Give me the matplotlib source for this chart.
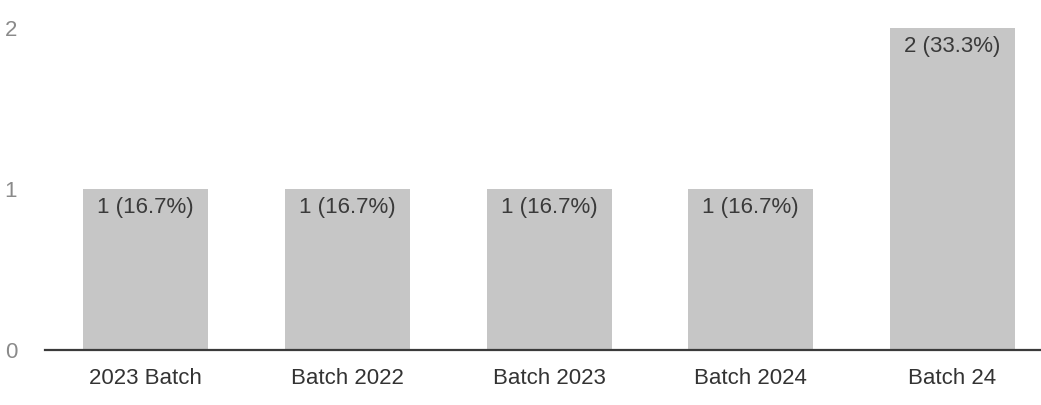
import matplotlib.pyplot as plt

categories = ["2023 Batch", "Batch 2022", "Batch 2023", "Batch 2024", "Batch 24"]
counts = [1, 1, 1, 1, 2]
percents = [16.7, 16.7, 16.7, 16.7, 33.3]

plt.rcParams['font.family'] = ['Liberation Sans', 'DejaVu Sans']

fig = plt.figure(figsize=(10.41, 4.05), dpi=100)
ax = fig.add_axes([45 / 1041, 55 / 405, 1 - 45 / 1041, 322 / 405])

x = list(range(len(categories)))
ax.bar(x, counts, width=0.62, color='#c6c6c6', zorder=2)

# value labels inside the top of each bar
for xi, c, p in zip(x, counts, percents):
    ax.annotate(f"{c} ({p}%)", (xi, c), xytext=(0, -6), textcoords='offset points',
                ha='center', va='top', fontsize=16, color='#3a3a3a', zorder=3)

ax.set_xlim(-0.5, 4.44)
ax.set_ylim(0, 2)
ax.set_yticks([0, 1, 2])
ax.set_xticks(x)
ax.set_xticklabels(categories)

for s in ['top', 'right', 'left']:
    ax.spines[s].set_visible(False)
ax.spines['bottom'].set_color('#3a3a3a')
ax.spines['bottom'].set_linewidth(1.6)
ax.spines['bottom'].set_zorder(4)

ax.tick_params(axis='x', length=0, pad=13, labelsize=16, labelcolor='#333333')
ax.tick_params(axis='y', length=0, pad=20, labelsize=16, labelcolor='#8a8a8a')

fig.savefig("out.png", dpi=100)
